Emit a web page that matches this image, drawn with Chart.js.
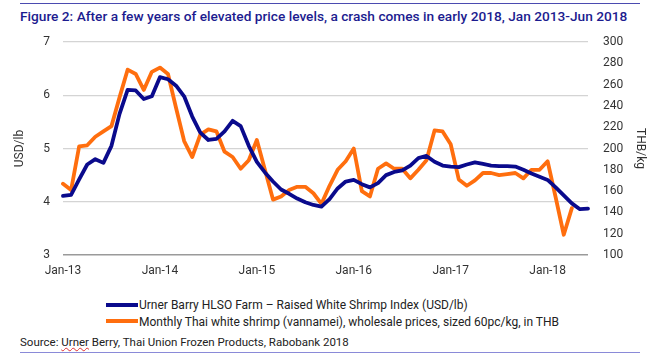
<!DOCTYPE html>
<html>
<head>
<meta charset="utf-8">
<script src="https://cdn.jsdelivr.net/npm/chart.js@4"></script>
<style>
  html, body { margin: 0; padding: 0; background: #fff; }
  body { width: 650px; height: 362px; position: relative; overflow: hidden; font-family: Roboto, "Open Sans", sans-serif; }
  #topRule { position: absolute; left: 20px; top: 3px; width: 620px; height: 1px; background: #4b4bb0; }
  #title { position: absolute; left: 20px; top: 8px; font-size: 13.7px; font-weight: 500; color: #1c1c8f; white-space: nowrap; }
  #wrap { position: absolute; left: 0; top: 0; width: 650px; height: 286px; }
  #legend { position: absolute; left: 106px; top: 297px; font-size: 12px; color: #222; }
  .row { height: 16.5px; line-height: 16.5px; white-space: nowrap; }
  .swatch { display: inline-block; width: 32px; height: 4px; vertical-align: middle; margin-right: 1px; position: relative; top: -1px; }
  #source { position: absolute; left: 20px; top: 335px; font-size: 11.5px; color: #222; white-space: nowrap; }
  #source .sp { text-decoration: underline wavy #e03030; text-decoration-thickness: 1px; }
  #bottomRule { position: absolute; left: 20px; top: 352px; width: 620px; height: 1px; background: #8a8ad8; }
</style>
</head>
<body>
<div id="topRule"></div>
<div id="title">Figure 2: After a few years of elevated price levels, a crash comes in early 2018, Jan 2013-Jun 2018</div>
<div id="wrap"><canvas id="chart"></canvas></div>
<div id="legend">
  <div class="row"><span class="swatch" style="background:#0a0a8c"></span>Urner Barry HLSO Farm – Raised White Shrimp Index (USD/lb)</div>
  <div class="row"><span class="swatch" style="background:#ff6e0e"></span>Monthly Thai white shrimp (vannamei), wholesale prices, sized 60pc/kg, in THB</div>
</div>
<div id="source">Source: <span class="sp">Urner</span> Berry, Thai Union Frozen Products, Rabobank 2018</div>
<div id="bottomRule"></div>
<script>
// months Jan 2013 .. Jun 2018
const years = ['13', '14', '15', '16', '17', '18'];
const monthNames = ['Jan','Feb','Mar','Apr','May','Jun','Jul','Aug','Sep','Oct','Nov','Dec'];
const categories = [];
years.forEach(y => monthNames.forEach(m => { if (categories.length < 66) categories.push(m + '-' + y); }));

// Urner Barry index, USD/lb (left axis)
const urnerBarryUsd = [4.11,4.13,4.42,4.7,4.8,4.73,5.05,5.65,6.1,6.09,5.93,5.98,
  6.34,6.3,6.18,5.98,5.6,5.3,5.16,5.18,5.32,5.52,5.42,5.05,
  4.75,4.55,4.38,4.23,4.15,4.06,3.99,3.94,3.91,4.05,4.25,4.38,
  4.41,4.33,4.27,4.35,4.5,4.56,4.59,4.68,4.82,4.86,4.75,4.68,
  4.66,4.65,4.7,4.74,4.71,4.68,4.67,4.67,4.66,4.6,4.53,4.47,
  4.41,4.27,4.12,3.97,3.86,3.87];

// Thai vannamei wholesale, THB/kg (right axis), ends Apr 2018
const thaiWholesaleThb = [167,161,202,203,211,216,221,248,274,270,255,272,
  276,270,238,207,192,213,218,216,197,192,181,189,
  208,180,152,155,161,164,164,158,148,165,180,188,
  200,160,155,181,186,181,181,172,180,189,217,216,
  204,171,165,170,177,177,175,176,177,172,180,180,
  188,154,119,144];

const usdTicks = [3, 4, 5, 6, 7];
const thbTicks = [100, 120, 140, 160, 180, 200, 220, 240, 260, 280, 300];

const tickFont = { family: 'Roboto, "Open Sans", sans-serif', size: 12 };

new Chart(document.getElementById('chart'), {
  type: 'line',
  data: {
    labels: categories,
    datasets: [{
      label: 'Urner Barry HLSO Farm – Raised White Shrimp Index (USD/lb)',
      data: urnerBarryUsd,
      yAxisID: 'y',
      borderColor: '#0a0a8c',
      borderWidth: 3.8,
      pointRadius: 0,
      tension: 0,
      borderJoinStyle: 'round',
      borderCapStyle: 'round',
      fill: false
    }, {
      label: 'Monthly Thai white shrimp (vannamei), wholesale prices, sized 60pc/kg, in THB',
      data: thaiWholesaleThb,
      yAxisID: 'y1',
      borderColor: '#ff6e0e',
      borderWidth: 3.8,
      pointRadius: 0,
      tension: 0,
      borderJoinStyle: 'round',
      borderCapStyle: 'round',
      fill: false
    }]
  },
  options: {
    responsive: true,
    maintainAspectRatio: false,
    animation: false,
    layout: { padding: { top: 42, left: 0, right: 0, bottom: 0 } },
    plugins: {
      legend: { display: false },
      tooltip: { enabled: false }
    },
    scales: {
      x: {
        offset: false,
        grid: { display: false, drawTicks: false },
        border: { display: false },
        afterFit: s => { s.height = 31; },
        ticks: {
          autoSkip: false, maxRotation: 0, minRotation: 0, padding: 9,
          color: '#333', font: tickFont,
          callback: (v, i) => categories[i].startsWith('Jan') ? categories[i] : ''
        }
      },
      y: {
        position: 'left',
        min: 3, max: 7,
        afterBuildTicks: s => { s.ticks = usdTicks.map(v => ({ value: v })); },
        afterFit: s => { s.width = 63; },
        grid: {
          drawTicks: false,
          color: c => c.tick.value === 3 ? '#9a9a9a' : '#d4d4d4',
          lineWidth: c => c.tick.value === 3 ? 1.5 : 1.2
        },
        border: { display: false },
        ticks: { padding: 13, color: '#333', font: tickFont },
        title: { display: true, text: 'USD/lb', color: '#333', font: tickFont, padding: { top: 13, bottom: 0 } }
      },
      y1: {
        position: 'right',
        min: 100, max: 300,
        afterBuildTicks: s => { s.ticks = thbTicks.map(v => ({ value: v })); },
        afterFit: s => { s.width = 62; },
        grid: { drawOnChartArea: false, drawTicks: false },
        border: { display: false },
        ticks: { padding: 15, color: '#333', font: tickFont },
        title: { display: true, text: 'THB/kg', color: '#333', font: tickFont, padding: { top: 3, bottom: 0 } }
      }
    }
  }
});
</script>
</body>
</html>
